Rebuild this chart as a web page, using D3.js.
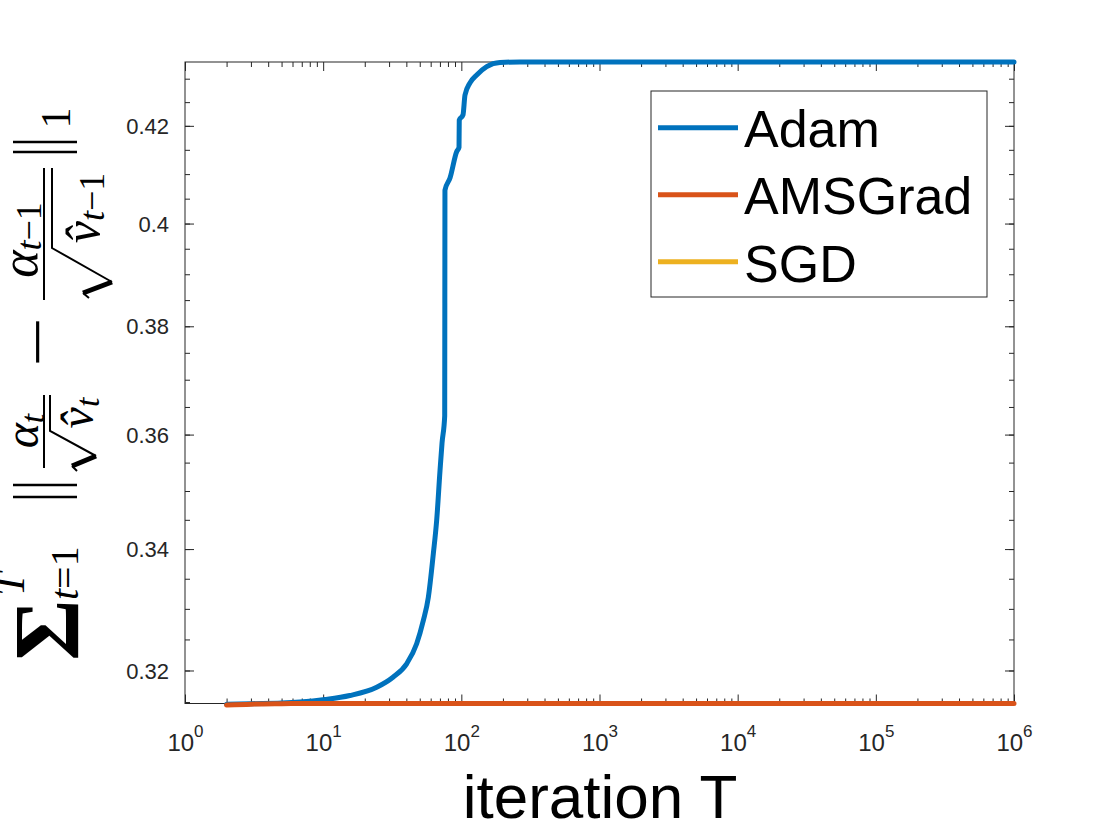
<!DOCTYPE html>
<html>
<head>
<meta charset="utf-8">
<script src="https://cdn.jsdelivr.net/npm/d3@7"></script>
<style>
body{margin:0;background:#fff;}
</style>
</head>
<body>
<div id="chart"></div>
<script>
// series data (iteration T, value)
var adamT = [2, 3, 5, 6.8, 10.3, 15.6, 24.4, 32, 40.2, 47.5, 53.1, 57.7, 62.7, 66.3, 70.1, 72.5, 75.8, 76.1, 82.8, 92.5, 96.2, 96.6, 102.8, 106.3, 115.5, 129.2, 152.6, 190.5, 265.8, 1000, 1e6];
var adamV = [0.31465, 0.31474, 0.31484, 0.31500, 0.31540, 0.31603, 0.31734, 0.31893, 0.32107, 0.3243, 0.3281, 0.3319, 0.3392, 0.3449, 0.3536, 0.3585, 0.3634, 0.4067, 0.4092, 0.4146, 0.4155, 0.4212, 0.4223, 0.4265, 0.4291, 0.4308, 0.4326, 0.4335, 0.4336, 0.4336, 0.4336];
var amsT = [2, 3, 5, 10, 100, 1000, 1e4, 1e5, 1e6];
var amsV = [0.31452, 0.31467, 0.31474, 0.31478, 0.31478, 0.31478, 0.31478, 0.31478, 0.31478];
var sgdT = [2, 1e6];
var sgdV = [0, 0];

var seriesNames = ["Adam", "AMSGrad", "SGD"];
var seriesColors = ["#0072BD", "#D95319", "#EDB120"];
var xTickExp = [0, 1, 2, 3, 4, 5, 6];
var yTickLabels = ["0.32", "0.34", "0.36", "0.38", "0.4", "0.42"];

var W = 1120, H = 840;
var mLeft = 185, mRight = 1014, mTop = 62, mBottom = 703.5;
var axisCol = "#262626";
var sans = "'Liberation Sans', Arial, Helvetica, sans-serif";
var serif = "'Liberation Serif', 'Times New Roman', serif";

var svg = d3.select("#chart").append("svg")
    .attr("width", W)
    .attr("height", H)
    .style("font-family", sans);

var x = d3.scaleLog().domain([1, 1e6]).range([mLeft, mRight]);
var y = d3.scaleLog().domain([0.31477, 0.4336]).range([mBottom, mTop]);

// tick values
var xMajor = xTickExp.map(function(e){ return Math.pow(10, e); });
var xMinor = [];
xTickExp.slice(0, -1).forEach(function(e){
    for (var k = 2; k <= 9; k++) xMinor.push(k * Math.pow(10, e));
});
var yMajor = yTickLabels.map(function(s){ return +s; });
var yMinor = [];
for (var m = 0.315; m < 0.4336; m += 0.005) yMinor.push(+m.toFixed(3));

function styleAxis(g) {
    g.select(".domain").remove();
    g.selectAll(".tick line").attr("stroke", axisCol).attr("stroke-width", 1);
    g.selectAll(".tick text").attr("fill", axisCol).style("font-family", sans);
}

// minor ticks, all four sides
svg.append("g").attr("transform", "translate(0," + mBottom + ")")
    .call(d3.axisBottom(x).tickValues(xMinor).tickSize(-5).tickFormat("")).call(styleAxis);
svg.append("g").attr("transform", "translate(0," + mTop + ")")
    .call(d3.axisTop(x).tickValues(xMinor).tickSize(-5).tickFormat("")).call(styleAxis);
svg.append("g").attr("transform", "translate(" + mLeft + ",0)")
    .call(d3.axisLeft(y).tickValues(yMinor).tickSize(-5).tickFormat("")).call(styleAxis);
svg.append("g").attr("transform", "translate(" + mRight + ",0)")
    .call(d3.axisRight(y).tickValues(yMinor).tickSize(-5).tickFormat("")).call(styleAxis);

// major ticks
var xAxis = svg.append("g").attr("transform", "translate(0," + mBottom + ")")
    .call(d3.axisBottom(x).tickValues(xMajor).tickSize(-9).tickPadding(28).tickFormat(function(d){ return "10"; }))
    .call(styleAxis);
svg.append("g").attr("transform", "translate(0," + mTop + ")")
    .call(d3.axisTop(x).tickValues(xMajor).tickSize(-9).tickFormat("")).call(styleAxis);
svg.append("g").attr("transform", "translate(" + mLeft + ",0)")
    .call(d3.axisLeft(y).tickValues(yMajor).tickSize(-9).tickPadding(16)
        .tickFormat(function(d, i){ return yTickLabels[i]; }))
    .call(styleAxis)
    .selectAll(".tick text").style("font-size", "22px").attr("dy", "0.35em");
svg.append("g").attr("transform", "translate(" + mRight + ",0)")
    .call(d3.axisRight(y).tickValues(yMajor).tickSize(-9).tickFormat("")).call(styleAxis);

// x labels as 10 with superscript exponent
xAxis.selectAll(".tick text")
    .style("font-size", "24px")
    .attr("dy", 0)
    .attr("y", 47)
    .attr("text-anchor", "middle")
    .each(function(d, i){
        var t = d3.select(this).text("");
        t.append("tspan").text("10");
        t.append("tspan").attr("dy", -14).style("font-size", "17px").text(xTickExp[i]);
    });

// axes box
svg.append("rect")
    .attr("x", mLeft).attr("y", mTop)
    .attr("width", mRight - mLeft).attr("height", mBottom - mTop)
    .attr("fill", "none").attr("stroke", axisCol).attr("stroke-width", 1);

// lines
var line = d3.line()
    .defined(function(d){ return d[1] > 0; })
    .curve(d3.curveMonotoneX)
    .x(function(d){ return x(d[0]); })
    .y(function(d){ return y(d[1]); });

var seriesData = [
    d3.zip(adamT, adamV),
    d3.zip(amsT, amsV),
    d3.zip(sgdT, sgdV)
];

svg.selectAll(".series")
    .data(seriesData)
    .enter()
    .append("path")
    .attr("class", "series")
    .attr("d", line)
    .attr("fill", "none")
    .attr("stroke", function(d, i){ return seriesColors[i]; })
    .attr("stroke-width", 5)
    .attr("stroke-linejoin", "round")
    .attr("stroke-linecap", "round");

// legend
var lg = svg.append("g");
lg.append("rect")
    .attr("x", 651).attr("y", 91).attr("width", 336).attr("height", 206)
    .attr("fill", "#fff").attr("stroke", axisCol).attr("stroke-width", 1);
seriesNames.forEach(function(name, i){
    lg.append("line")
        .attr("x1", 658).attr("x2", 738)
        .attr("y1", 127.7 + i * 67).attr("y2", 127.7 + i * 67)
        .attr("stroke", seriesColors[i]).attr("stroke-width", 5);
    lg.append("text")
        .attr("x", 744).attr("y", 146.7 + i * 67.5)
        .style("font-size", "52px").attr("fill", "#000")
        .text(name);
});

// x label
svg.append("text")
    .attr("x", 600).attr("y", 818)
    .attr("text-anchor", "middle")
    .style("font-size", "62px").attr("fill", "#000")
    .text("iteration T");

// y label: sum_{t=1}^T || a_t/sqrt(v_t) - a_{t-1}/sqrt(v_{t-1}) ||_1
var yl = svg.append("g")
    .attr("transform", "translate(44,0) rotate(-90)")
    .style("font-family", serif)
    .attr("fill", "#000");

function stroke(x1, y1, x2, y2, w) {
    yl.append("line").attr("x1", x1).attr("y1", y1).attr("x2", x2).attr("y2", y2)
        .attr("stroke", "#000").attr("stroke-width", w);
}

yl.append("text").attr("x", -630).attr("y", 34).attr("text-anchor", "middle")
    .style("font-size", "94px").style("font-weight", "bold").text("Σ");
yl.append("text").attr("x", -584).attr("y", -20).attr("text-anchor", "middle")
    .style("font-size", "42px").style("font-style", "italic").text("T");
var sub1 = yl.append("text").attr("x", -600).attr("y", 34)
    .style("font-size", "40px");
sub1.append("tspan").style("font-style", "italic").text("t");
sub1.append("tspan").text("=1");

// first norm bars
stroke(-497, -31, -497, 33, 2.5);
stroke(-485, -31, -485, 33, 2.5);

// first fraction
stroke(-468, 0, -395, 0, 2);
var n1 = yl.append("text").attr("x", -431).attr("y", -6).attr("text-anchor", "middle")
    .style("font-size", "48px").style("font-style", "italic");
n1.append("tspan").text("α");
n1.append("tspan").attr("dy", 6).style("font-size", "34px").text("t");
yl.append("path").attr("d", "M-471,33 L-466,28").attr("stroke", "#000").attr("stroke-width", 2).attr("fill", "none");
stroke(-466, 28, -456, 52, 5);
yl.append("path").attr("d", "M-456,52 L-431,6 L-395,6").attr("stroke", "#000").attr("stroke-width", 2).attr("fill", "none");
var d1 = yl.append("text").attr("x", -413).attr("y", 49).attr("text-anchor", "middle")
    .style("font-size", "48px").style("font-style", "italic");
d1.append("tspan").text("v\u0302");
d1.append("tspan").attr("dy", 6).style("font-size", "34px").text("t");

// minus
yl.append("text").attr("x", -342).attr("y", 15).attr("text-anchor", "middle")
    .attr("textLength", 50).attr("lengthAdjust", "spacingAndGlyphs")
    .style("font-size", "64px").text("−");

// second fraction
stroke(-300, 0, -168, 0, 2);
var n2 = yl.append("text").attr("x", -240).attr("y", -7).attr("text-anchor", "middle")
    .style("font-size", "52px").style("font-style", "italic");
n2.append("tspan").text("α");
n2.append("tspan").attr("dy", 4).style("font-size", "36px").text("t");
n2.append("tspan").style("font-size", "36px").style("font-style", "normal").text("−1");
yl.append("path").attr("d", "M-298,45 L-293,39").attr("stroke", "#000").attr("stroke-width", 2).attr("fill", "none");
stroke(-293, 39, -282, 68, 5);
yl.append("path").attr("d", "M-282,68 L-248,8 L-168,8").attr("stroke", "#000").attr("stroke-width", 2).attr("fill", "none");
var d2 = yl.append("text").attr("x", -208).attr("y", 55).attr("text-anchor", "middle")
    .style("font-size", "50px").style("font-style", "italic");
d2.append("tspan").text("v\u0302");
d2.append("tspan").attr("dy", 5).style("font-size", "36px").text("t");
d2.append("tspan").style("font-size", "36px").style("font-style", "normal").text("−1");

// second norm bars and subscript 1
stroke(-152, -31, -152, 33, 2.5);
stroke(-142, -31, -142, 33, 2.5);
yl.append("text").attr("x", -118).attr("y", 26).attr("text-anchor", "middle")
    .style("font-size", "42px").text("1");
</script>
</body>
</html>
